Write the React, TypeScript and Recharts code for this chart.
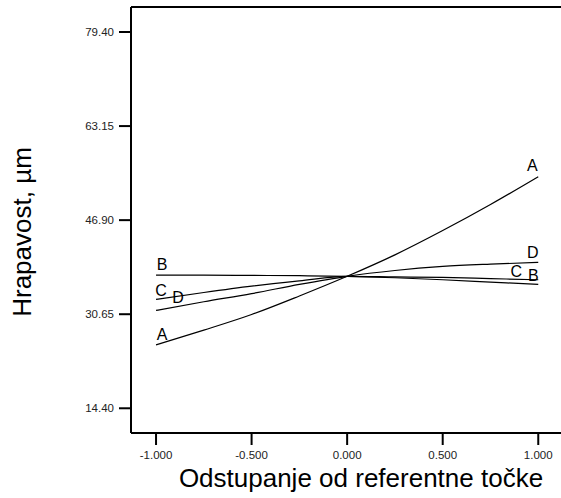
import { LineChart, Line, XAxis, YAxis, ReferenceLine } from "recharts";

const xValues = [-1, -0.75, -0.5, -0.25, 0, 0.25, 0.5, 0.75, 1];
const seriesA = [25.35, 27.9, 30.6, 33.8, 37.2, 40.9, 45.1, 49.6, 54.4];
const seriesB = [37.4, 37.4, 37.35, 37.3, 37.2, 36.95, 36.6, 36.2, 35.8];
const seriesC = [33.2, 34.4, 35.5, 36.4, 37.2, 37.1, 37.0, 36.8, 36.6];
const seriesD = [31.3, 32.8, 34.2, 35.8, 37.2, 38.2, 38.9, 39.3, 39.6];

const xTicks = [-1, -0.5, 0, 0.5, 1];
const yTicks = [14.4, 30.65, 46.9, 63.15, 79.4];
const xDomain = [-1.131, 1.119];
const yDomain = [10.13, 83.72];

const data = xValues.map((x, i) => ({
  x,
  A: seriesA[i],
  B: seriesB[i],
  C: seriesC[i],
  D: seriesD[i],
}));

const font = "'Liberation Sans', Arial, sans-serif";

// label offsets for the start / end of each curve
const labelOffsets: Record<string, { start: [number, number]; end: [number, number] }> = {
  A: { start: [6, -10], end: [-6, -11] },
  B: { start: [6, -10.5], end: [-5, -9] },
  C: { start: [5, -9], end: [-22, -8] },
  D: { start: [22, -12.5], end: [-5.5, -10] },
};

const endLabel = (name: string) => (props: any) => {
  const { x, y, index } = props;
  const last = xValues.length - 1;
  if (index !== 0 && index !== last) return <g key={`${name}-${index}`} />;
  const [dx, dy] = index === 0 ? labelOffsets[name].start : labelOffsets[name].end;
  return (
    <text
      key={`${name}-${index}`}
      x={x + dx}
      y={y + dy}
      textAnchor="middle"
      dominantBaseline="central"
      fontSize={16}
      fontFamily={font}
      fill="#000"
    >
      {name}
    </text>
  );
};

export default function App() {
  return (
    <div style={{ position: "absolute", left: 0, top: 0, background: "#fff" }}>
      <LineChart width={561} height={498} data={data} margin={{ top: 7, right: 0, bottom: 0, left: 0 }}>
        <XAxis
          dataKey="x"
          type="number"
          domain={xDomain}
          ticks={xTicks}
          allowDataOverflow
          height={65}
          tickSize={12}
          tickMargin={6}
          tickFormatter={(v) => Number(v).toFixed(3)}
          tick={{ fontSize: 11.5, fill: "#222", fontFamily: font }}
          axisLine={{ stroke: "#000", strokeWidth: 2 }}
          tickLine={{ stroke: "#000", strokeWidth: 2 }}
          label={{
            content: () => (
              <text x={361} y={487} textAnchor="middle" fontSize={26} fontFamily={font} fill="#000">
                Odstupanje od referentne točke
              </text>
            ),
          }}
        />
        <YAxis
          type="number"
          domain={yDomain}
          ticks={yTicks}
          allowDataOverflow
          width={131}
          tickSize={12}
          tickMargin={5}
          tickFormatter={(v) => Number(v).toFixed(2)}
          tick={{ fontSize: 11.5, fill: "#222", fontFamily: font }}
          axisLine={{ stroke: "#000", strokeWidth: 2 }}
          tickLine={{ stroke: "#000", strokeWidth: 2 }}
          label={{
            content: () => (
              <text
                x={31}
                y={232}
                textAnchor="middle"
                fontSize={26}
                fontFamily={font}
                fill="#000"
                transform="rotate(-90, 31, 232)"
              >
                Hrapavost, µm
              </text>
            ),
          }}
        />
        <ReferenceLine y={yDomain[1]} stroke="#000" strokeWidth={2} />
        {(["A", "B", "C", "D"] as const).map((k) => (
          <Line
            key={k}
            dataKey={k}
            type="monotone"
            stroke="#000"
            strokeWidth={1.2}
            dot={false}
            activeDot={false}
            isAnimationActive={false}
            label={endLabel(k)}
          />
        ))}
      </LineChart>
    </div>
  );
}
